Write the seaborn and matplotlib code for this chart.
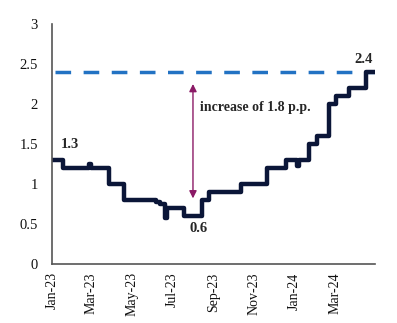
import matplotlib
matplotlib.use("Agg")
import matplotlib.pyplot as plt
import seaborn as sns
import pandas as pd

# ---- data ----
change_dates = ["2023-01-01", "2023-01-17", "2023-02-25", "2023-02-28", "2023-03-27",
                "2023-04-20", "2023-06-07", "2023-06-12", "2023-06-20", "2023-06-23",
                "2023-07-19", "2023-08-15", "2023-08-25", "2023-10-12", "2023-11-20",
                "2023-12-19", "2024-01-04", "2024-01-08", "2024-01-22", "2024-02-03",
                "2024-02-21", "2024-03-03", "2024-03-22", "2024-04-17", "2024-04-30"]
rate_values = [1.3, 1.2, 1.25, 1.2, 1.0,
               0.8, 0.78, 0.75, 0.58, 0.7,
               0.6, 0.8, 0.9, 1.0, 1.2,
               1.3, 1.22, 1.3, 1.5, 1.6,
               2.0, 2.1, 2.2, 2.4, 2.4]
ref_dates = ["2023-01-05", "2024-04-30"]
ref_values = [2.4, 2.4]
tick_dates = ["2023-01-01", "2023-03-01", "2023-05-01", "2023-07-01", "2023-09-01",
              "2023-11-01", "2024-01-01", "2024-03-01", "2024-05-01"]
tick_labels = ["Jan-23", "Mar-23", "May-23", "Jul-23", "Sep-23",
               "Nov-23", "Jan-24", "Mar-24", ""]
y_ticks = [0, 0.5, 1, 1.5, 2, 2.5, 3]
y_tick_labels = ["0", "0.5", "1", "1.5", "2", "2.5", "3"]
arrow_date, arrow_low, arrow_high = "2023-08-01", 0.82, 2.25
annotation_text = "increase of 1.8 p.p."

df = pd.DataFrame({"date": pd.to_datetime(change_dates), "rate": rate_values})
ref = pd.DataFrame({"date": pd.to_datetime(ref_dates), "rate": ref_values})

sns.set_style("white")
plt.rcParams["font.family"] = ["Liberation Serif", "DejaVu Serif"]

fig = plt.figure(figsize=(3.97, 3.23), dpi=100)
ax = fig.add_axes([0.131, 0.1827, 0.814, 0.743])

sns.lineplot(data=ref, x="date", y="rate", ax=ax, color="#2272C3", linewidth=2.5,
             dashes=False, estimator=None)
ax.lines[-1].set_dashes([4.5, 3.6])
ax.lines[-1].set_dash_capstyle("butt")

sns.lineplot(data=df, x="date", y="rate", ax=ax, color="#0B1638", linewidth=3.2,
             drawstyle="steps-post", estimator=None)

ax.annotate("", xy=(pd.Timestamp(arrow_date), arrow_high),
            xytext=(pd.Timestamp(arrow_date), arrow_low),
            arrowprops=dict(arrowstyle="<|-|>", color="#8B1A66", lw=1.0,
                            mutation_scale=11, shrinkA=0, shrinkB=0))
ax.text(pd.Timestamp("2023-08-12"), 1.96, annotation_text, fontsize=10,
        fontweight="bold", va="center", ha="left")
ax.text(pd.Timestamp("2023-01-14"), 1.49, "1.3", fontsize=10.5, fontweight="bold",
        va="center", ha="left")
ax.text(pd.Timestamp("2024-04-28"), 2.55, "2.4", fontsize=10.5, fontweight="bold",
        va="center", ha="right")
ax.text(pd.Timestamp("2023-07-27"), 0.44, "0.6", fontsize=10.5, fontweight="bold",
        va="center", ha="left")

ax.set_xlim(pd.Timestamp("2023-01-01"), pd.Timestamp("2024-05-01"))
ax.set_ylim(0, 3)
ax.set_xticks(pd.to_datetime(tick_dates))
ax.set_xticklabels(tick_labels, rotation=90, fontsize=10)
ax.set_yticks(y_ticks)
ax.set_yticklabels(y_tick_labels, fontsize=10.5)
ax.set_xlabel("")
ax.set_ylabel("")
ax.tick_params(axis="both", direction="in", length=4, color="#555555", width=1.0,
               labelcolor="#111111")
ax.tick_params(axis="y", pad=10)
ax.tick_params(axis="x", pad=6)
for s in ["top", "right"]:
    ax.spines[s].set_visible(False)
for s in ["left", "bottom"]:
    ax.spines[s].set_color("#555555")
    ax.spines[s].set_linewidth(1.2)
ax.grid(False)

fig.savefig("out.png", dpi=100)
